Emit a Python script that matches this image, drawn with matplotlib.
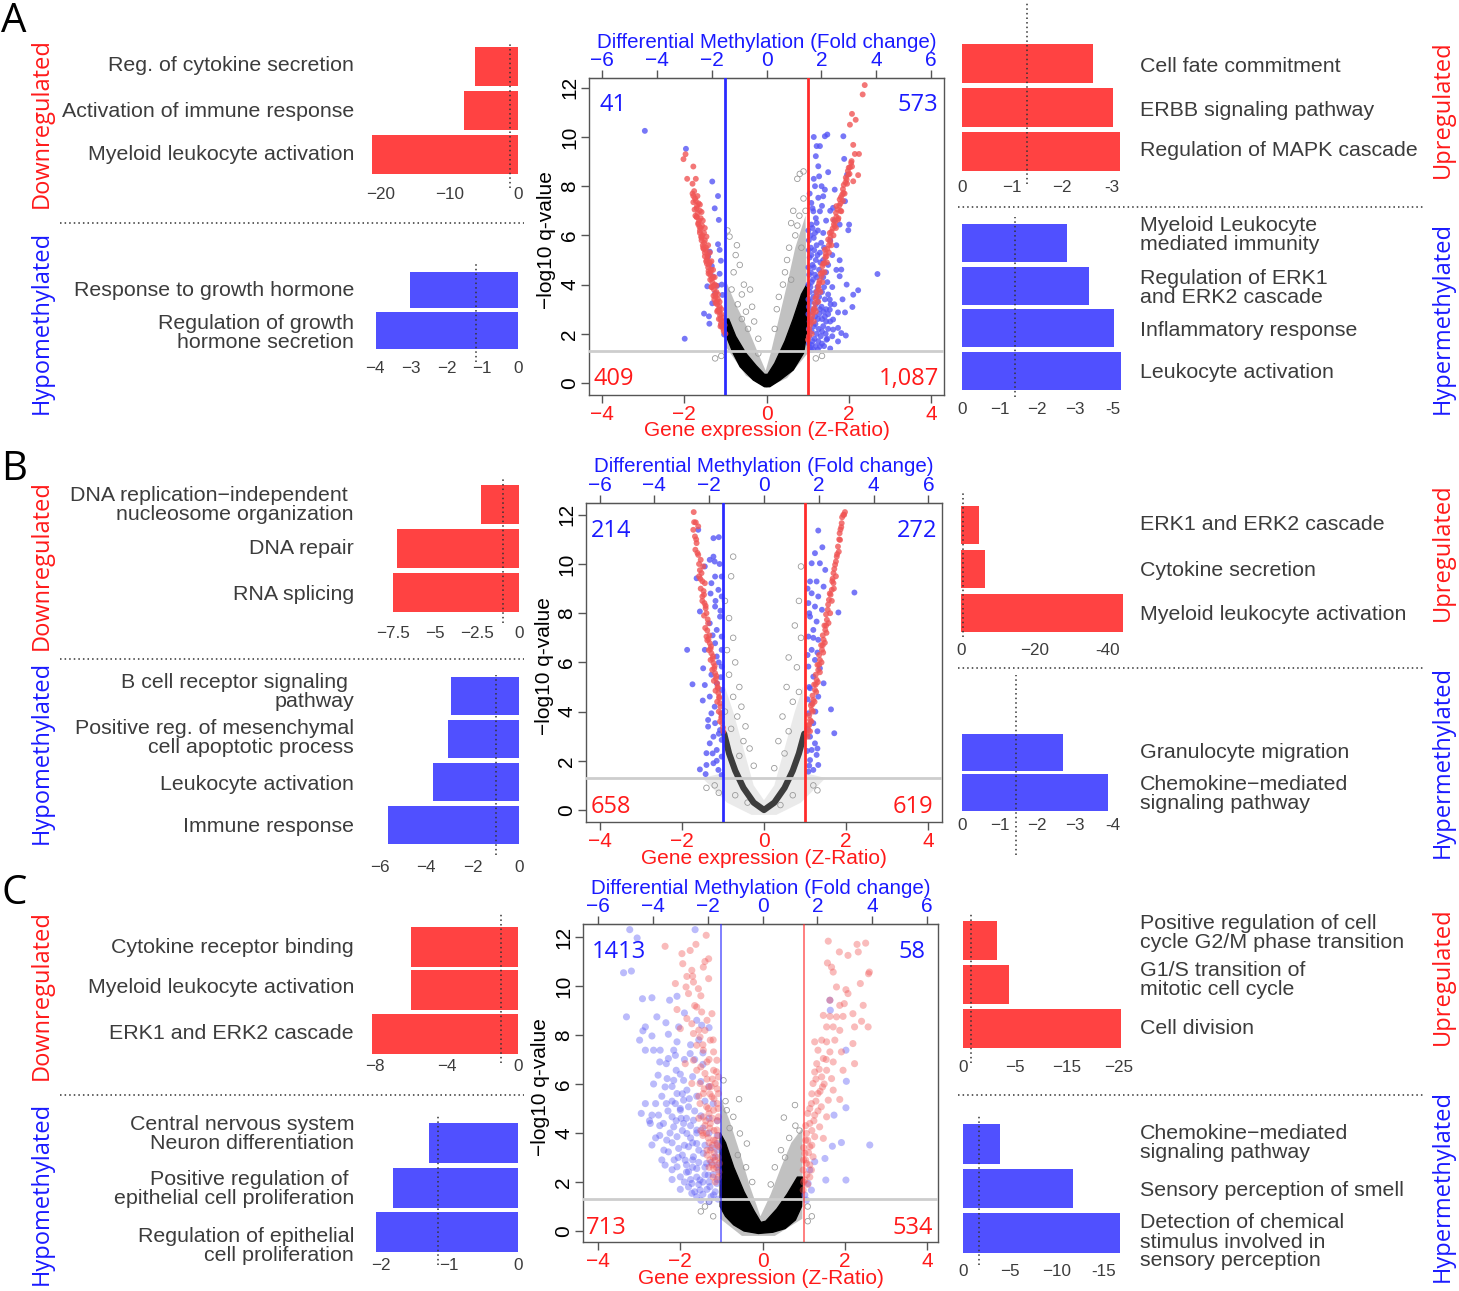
import numpy as np
import matplotlib
matplotlib.use("Agg")
import matplotlib.pyplot as plt
from matplotlib.patches import Polygon
from matplotlib.transforms import blended_transform_factory

plt.rcParams['font.family'] = ['Liberation Sans', 'DejaVu Sans']

# ============================ DATA ============================
# --- enrichment bars (values read against each panel's own axis) ---
A_down_terms = ["Reg. of cytokine secretion", "Activation of immune response", "Myeloid leukocyte activation"]
A_down_vals = [-6.2, -7.9, -21.2]
A_down_ticks = ["\u221220", "\u221210", "0"]
A_hypo_terms = ["Response to growth hormone", "Regulation of growth\nhormone secretion"]
A_hypo_vals = [-3.03, -3.97]
A_hypo_ticks = ["\u22124", "\u22123", "\u22122", "\u22121", "0"]
A_up_terms = ["Cell fate commitment", "ERBB signaling pathway", "Regulation of MAPK cascade"]
A_up_vals = [-2.62, -3.02, -3.16]
A_up_ticks = ["0", "\u22121", "\u22122", "-3"]
A_hyper_terms = ["Myeloid Leukocyte\nmediated immunity", "Regulation of ERK1\nand ERK2 cascade",
                 "Inflammatory response", "Leukocyte activation"]
A_hyper_vals = [-2.79, -3.38, -4.04, -4.23]
A_hyper_ticks = ["0", "\u22121", "\u22122", "\u22123", "-5"]

B_down_terms = ["DNA replication\u2212independent \nnucleosome organization", "DNA repair", "RNA splicing"]
B_down_vals = [-2.26, -7.3, -7.5]
B_down_ticks = ["\u22127.5", "\u22125", "\u22122.5", "0"]
B_hypo_terms = ["B cell receptor signaling \npathway", "Positive reg. of mesenchymal\ncell apoptotic process",
                "Leukocyte activation", "Immune response"]
B_hypo_vals = [-2.93, -3.04, -3.7, -5.63]
B_hypo_ticks = ["\u22126", "\u22124", "\u22122", "0"]
B_up_terms = ["ERK1 and ERK2 cascade", "Cytokine secretion", "Myeloid leukocyte activation"]
B_up_vals = [-4.9, -6.5, -44.1]
B_up_ticks = ["0", "\u221220", "-40"]
B_hyper_terms = ["Granulocyte migration", "Chemokine\u2212mediated\nsignaling pathway"]
B_hyper_vals = [-2.69, -3.88]
B_hyper_ticks = ["0", "\u22121", "\u22122", "\u22123", "-4"]

C_down_terms = ["Cytokine receptor binding", "Myeloid leukocyte activation", "ERK1 and ERK2 cascade"]
C_down_vals = [-6.0, -6.0, -8.2]
C_down_ticks = ["\u22128", "\u22124", "0"]
C_hypo_terms = ["Central nervous system\nNeuron differentiation", "Positive regulation of \nepithelial cell proliferation",
                "Regulation of epithelial\ncell proliferation"]
C_hypo_vals = [-1.3, -1.81, -2.07]
C_hypo_ticks = ["\u22122", "\u22121", "0"]
C_up_terms = ["Positive regulation of cell\ncycle G2/M phase transition", "G1/S transition of\nmitotic cell cycle",
              "Cell division"]
C_up_vals = [-0.65, -0.88, -3.04]
C_up_ticks = ["0", "\u22125", "\u221215", "\u221225"]
C_hyper_terms = ["Chemokine\u2212mediated\nsignaling pathway", "Sensory perception of smell",
                 "Detection of chemical\nstimulus involved in\nsensory perception"]
C_hyper_vals = [-3.9, -11.7, -16.7]
C_hyper_ticks = ["0", "\u22125", "\u221210", "-15"]

# significance thresholds (dotted lines)
thr_A = dict(down=-1.22, hypo=-1.18, up=-1.3, hyper=-1.41)
thr_B = dict(down=-0.98, hypo=-1.0, up=-0.6, hyper=-1.44)
thr_C = dict(down=-0.96, hypo=-1.17, up=-0.15, hyper=-1.7)

# --- volcano counts ---
A_counts = ["41", "573", "409", "1,087"]
B_counts = ["214", "272", "658", "619"]
C_counts = ["1413", "58", "713", "534"]

# --- volcano points (z-ratio, -log10 q) ---
volA_red = [(-2.02,9.1),(-1.97,9.3),(-1.78,8.8),(-1.93,8.3),(-1.72,8.3),(-1.8,8.1),(-1.78,7.6),(-1.68,7.6),(-1.72,7.4),
 (-1.65,7.3),(-1.7,7.1),(-1.62,7.0),(-1.73,6.8),(-1.6,6.7),(-1.66,6.5),(-1.57,6.4),(-1.62,6.2),(-1.52,6.1),(-1.58,5.9),
 (-1.5,5.8),(-1.55,5.6),(-1.47,5.5),(-1.5,5.3),(-1.43,5.2),(-1.45,5.0),(-1.38,4.9),(-1.42,4.7),(-1.35,4.6),(-1.37,4.4),
 (-1.3,4.3),(-1.32,4.1),(-1.26,4.0),(-1.28,3.8),(-1.22,3.7),(-1.24,3.5),(-1.18,3.4),(-1.2,3.2),(-1.14,3.1),(-1.15,2.9),
 (-1.1,2.8),(-1.12,2.6),(-1.06,2.5),(-1.08,2.3),(-1.04,2.1),
 (-1.05,2.2),(-1.09,2.5),(-1.13,2.75),(-1.16,3.0),(-1.21,3.3),(-1.25,3.6),(-1.29,3.95),(-1.33,4.25),(-1.36,4.5),(-1.4,4.8),
 (-1.44,5.1),(-1.48,5.4),(-1.52,5.7),(-1.56,6.0),(-1.6,6.3),(-1.64,6.6),(-1.67,6.9),(-1.69,7.2),(-1.74,7.5),(-1.76,7.8),
 (-1.11,2.4),(-1.19,2.95),(-1.27,3.4),(-1.34,3.9),(-1.41,4.45),(-1.47,4.95),(-1.53,5.45),(-1.59,5.95),(-1.63,6.35),(-1.7,6.75),
 (-1.12,2.3),(-1.16,2.6),(-1.2,2.9),(-1.24,3.25),(-1.29,3.55),(-1.33,3.9),(-1.37,4.2),(-1.41,4.55),(-1.45,4.85),(-1.5,5.15),
 (-1.54,5.5),(-1.58,5.8),(-1.62,6.1),(-1.66,6.45),(-1.7,6.75),(-1.75,7.05),(-1.78,7.35),(-1.8,7.7),
 (-1.0,2.0),(-1.02,2.35),(-1.06,2.65),(-1.1,3.0),(-1.14,3.3),(-1.18,3.6),(-1.22,3.95),(-1.26,4.3),(-1.3,4.6),(-1.34,4.95),
 (-1.38,5.3),(-1.42,5.6),(-1.46,5.95),(-1.5,6.3),(-1.55,6.6),(-1.58,6.95),(-1.62,7.25),
 (2.39,12.11),(2.34,11.73),(2.08,10.94),(2.17,10.7),(2.03,10.5),(2.11,9.68),(2.15,9.31),(2.25,9.31),(2.07,9.02),(2.03,8.77),
 (1.99,8.47),(2.23,8.45),(1.95,8.27),(2.11,8.2),(1.87,7.73),(1.78,7.46),(1.7,7.19),(1.82,6.98),(1.62,6.64),(1.74,6.64),
 (1.54,6.1),(1.66,6.37),(1.5,5.83),(1.42,5.42),(1.46,5.15),(1.36,4.75),(1.34,4.34),(1.26,3.93),(1.22,3.53),(1.14,2.98),
 (1.07,2.58),(1.04,2.17),(1.01,1.76),
 (1.06,2.35),(1.11,2.72),(1.17,3.05),(1.19,3.45),(1.27,3.82),(1.29,4.15),(1.36,4.52),(1.41,4.88),(1.44,5.25),(1.52,5.61),
 (1.56,5.95),(1.61,6.28),(1.67,6.55),(1.69,6.92),(1.77,7.21),(1.81,7.55),(1.86,7.88),(1.92,8.15),(1.98,8.62),(2.06,8.95),
 (1.03,1.9),(1.08,2.45),(1.13,2.85),(1.18,3.25),(1.22,3.7),(1.28,4.05),(1.32,4.45),(1.38,4.85),(1.43,5.1),(1.48,5.45),
 (1.55,5.75),(1.58,6.15),(1.64,6.45),(1.7,6.75),(1.73,7.05),(1.8,7.3),(1.84,7.65),(1.88,8.05),(1.93,8.35),(2.0,8.75),
 (1.1,2.0),(1.15,2.5),(1.2,2.9),(1.26,3.3),(1.31,3.7),(1.36,4.1),(1.41,4.5),(1.47,4.9),(1.52,5.3),(1.58,5.6),
 (1.63,6.0),(1.69,6.3),(1.75,6.7),(1.8,7.0),(1.86,7.4),(1.9,7.7),(1.96,8.1),(2.02,8.5),(2.08,8.8)]
volA_blue = [(-2.96,10.25),(-1.96,9.52),(-1.99,1.8),(-1.32,8.19),(-1.18,7.6),(-1.26,7.1),(-1.16,6.63),(-1.18,5.64),(-1.14,5.41),
 (-1.11,4.97),(-1.14,4.44),(-1.09,4.0),(-1.44,3.93),(-1.52,2.82),(-1.4,2.71),(-1.39,2.41),(-1.32,3.24),(-1.09,2.33),(-1.03,1.97),
 (-1.42,5.14),(-1.38,5.34),(-1.3,4.33),(-1.07,3.58),(-1.33,4.75),(-1.25,3.65),(-1.2,3.95),
 (1.15,10.0),(1.42,10.03),(1.48,10.1),(1.87,10.03),(1.22,9.63),(1.3,9.63),(1.2,9.22),(1.89,9.11),(1.26,8.81),(1.5,8.57),
 (1.96,8.47),(1.18,8.0),(1.34,8.0),(1.42,7.86),(1.66,7.86),(1.09,7.32),(1.26,7.53),(1.38,7.59),(1.14,6.98),(1.3,6.98),
 (1.62,7.12),(1.91,7.39),(2.01,6.44),(1.78,6.44),(1.99,6.21),(1.09,6.44),(1.22,6.51),(1.38,6.1),(1.78,4.99),(1.82,4.61),
 (1.78,4.34),(2.7,4.43),(2.23,3.77),(2.11,3.59),(2.09,3.09),(1.91,2.87),(1.74,2.87),(1.54,2.98),(1.62,2.58),(1.74,2.24),
 (1.93,1.93),(1.82,2.03),(1.74,1.69),(1.46,1.76),(1.62,2.17),(1.3,1.49),(1.14,1.36),(1.38,2.31),(1.54,3.39),
 (1.03,5.8),(1.08,5.5),(1.15,5.9),(1.22,5.6),(1.05,5.1),(1.12,4.8),(1.2,5.0),(1.3,5.3),(1.04,4.4),(1.1,4.1),(1.18,4.4),
 (1.28,4.6),(1.06,3.7),(1.14,3.5),(1.24,3.9),(1.35,3.7),(1.03,3.1),(1.1,2.9),(1.2,3.2),(1.3,3.0),(1.42,3.4),(1.05,2.5),
 (1.15,2.3),(1.25,2.6),(1.35,2.6),(1.45,2.5),(1.04,1.9),(1.12,1.7),(1.22,2.0),(1.32,1.9),(1.5,2.2),(1.06,1.45),(1.2,1.5),
 (1.4,1.5),(1.55,1.4),(1.48,4.1),(1.5,3.6),(1.6,3.9),(1.45,4.5),(1.6,5.2),(1.7,5.6),(1.25,6.2),(1.45,6.6),(1.55,7.0),
 (1.65,6.6),(1.7,4.6),(1.65,3.2),(1.85,3.4),(1.95,4.0),(1.6,1.9),
 (1.02,6.2),(1.07,6.0),(1.12,6.3),(1.18,6.1),(1.03,5.4),(1.09,5.2),(1.16,5.4),(1.24,5.2),(1.33,5.7),(1.02,4.7),(1.08,4.5),
 (1.15,4.7),(1.23,4.3),(1.31,4.9),(1.38,4.3),(1.02,4.0),(1.07,3.9),(1.13,4.2),(1.2,3.7),(1.28,3.5),(1.4,3.9),(1.02,3.4),
 (1.08,3.3),(1.16,3.0),(1.24,3.3),(1.34,3.1),(1.45,3.0),(1.02,2.8),(1.09,2.6),(1.18,2.7),(1.28,2.8),(1.39,2.9),(1.5,2.8),
 (1.03,2.2),(1.1,2.1),(1.19,2.4),(1.27,2.2),(1.44,2.0),(1.55,2.5),(1.03,1.6),(1.1,1.55),(1.17,1.8),(1.26,1.7),(1.35,1.6),
 (1.48,1.8),(1.08,1.35),(1.25,1.35),(1.35,2.1),(1.42,2.7),(1.56,3.2),(1.5,4.8),(1.38,5.0),(1.4,5.5),(1.55,5.8),(1.12,7.1),
 (1.2,6.7),(1.35,7.2),(1.05,7.7),(1.15,8.3),(1.28,8.4)]
volA_gray = [(-0.9,5.95),(-0.72,5.6),(-0.95,6.2),(-0.55,4.0),(-0.6,3.6),(-0.4,3.8),(-0.7,3.2),(-0.5,2.9),(-0.3,2.5),
 (-0.8,4.5),(-0.65,4.8),(-0.2,1.8),(-0.45,2.2),(-0.85,3.8),(-0.35,3.1),(-0.6,2.6),(-0.75,5.2),(-0.2,1.2),(0.81,8.5),
 (0.75,8.3),(0.9,7.5),(0.6,6.5),(0.7,6.0),(0.55,5.5),(0.8,6.8),(0.45,4.5),(0.3,3.5),(0.25,3.0),(0.65,7.0),(0.9,8.6),
 (0.85,5.5),(0.4,4.0),(0.5,5.0),(0.2,2.2),(0.95,7.0),(0.75,6.4),(1.2,1.0),(1.35,1.1),(0.6,4.2),(-1.1,1.1),(-1.25,1.0)]
volA_halo = [(-1.0,4.2),(-0.75,3.2),(-0.45,2.2),(-0.2,1.2),(-0.02,0.5),(0.1,1.2),(0.3,2.6),(0.5,4.0),(0.7,5.5),
 (0.95,6.8),(1.0,1.2),(0.5,0.2),(0.0,-0.2),(-0.5,0.3),(-1.0,1.5)]
volA_core = [(-1.01,2.6),(-1.0,2.0),(-0.81,1.21),(-0.64,0.66),(-0.32,0.12),(-0.05,-0.15),(0.08,-0.15),(0.33,0.12),
 (0.65,0.53),(0.9,1.21),(0.98,2.0),(0.98,4.0),(0.85,3.6),(0.65,2.6),(0.45,1.7),(0.2,0.8),(0.03,0.35),(-0.05,0.35),
 (-0.25,0.7),(-0.5,1.2),(-0.75,1.9),(-0.92,2.6)]

volB_red = [(-1.71,12.11),(-1.66,11.69),(-1.6,11.53),(-1.72,11.39),(-1.68,11.12),(-1.64,10.85),(-1.67,10.58),(-1.6,10.37),
 (-1.54,10.17),(-1.48,9.9),(-1.52,9.63),(-1.44,9.22),(-1.5,8.68),(-1.45,8.41),(-1.4,8.0),(-1.36,7.59),(-1.4,7.05),
 (-1.32,6.78),(-1.28,6.37),(-1.23,5.97),(-1.19,5.56),(-1.14,5.15),(-1.11,4.75),(-1.07,4.34),(-1.05,3.93),(-1.02,3.53),
 (-0.99,3.19),(-1.47,8.9),(-1.42,8.2),(-1.38,7.3),(-1.35,6.95),(-1.3,6.55),(-1.25,6.15),(-1.21,5.75),(-1.17,5.35),
 (-1.12,4.95),(-1.09,4.55),(-1.04,3.75),(-1.55,9.4),(-1.58,10.0),
 (-1.0,3.35),(-1.03,3.8),(-1.06,4.2),(-1.09,4.6),(-1.13,5.0),(-1.16,5.45),(-1.2,5.85),(-1.24,6.25),(-1.29,6.65),
 (-1.33,7.1),(-1.37,7.75),(-1.42,8.3),(-1.46,8.75),(-1.5,9.3),(-1.56,9.75),(-1.62,10.45),(-1.65,11.0),(-1.7,11.7),
 (-1.07,3.6),(-1.1,4.0),(-1.14,4.4),(-1.18,4.85),(-1.22,5.25),(-1.26,5.7),(-1.3,6.1),(-1.34,6.5),(-1.38,6.9),
 (-1.43,7.4),(-1.46,7.9),(-1.5,8.5),(-1.54,9.0),(-1.58,9.5),
 (1.97,12.11),(1.93,12.0),(1.89,11.66),(1.84,11.25),(1.85,10.98),(1.8,10.71),(1.77,10.3),(1.73,9.97),(1.69,9.63),
 (1.69,9.22),(1.65,8.95),(1.58,8.54),(1.55,8.14),(1.53,7.73),(1.49,7.32),(1.45,6.92),(1.41,6.51),(1.36,6.1),(1.32,5.69),
 (1.28,5.29),(1.24,4.88),(1.2,4.47),(1.16,4.07),(1.12,3.66),(1.08,3.25),(1.06,2.98),(1.9,11.9),(1.82,10.5),(1.75,10.1),
 (1.62,8.75),(1.51,7.5),(1.43,6.7),(1.34,5.9),(1.26,5.1),(1.18,4.3),(1.1,3.45),(1.86,11.4),(1.67,9.4),
 (1.04,3.1),(1.07,3.45),(1.1,3.85),(1.14,4.25),(1.18,4.65),(1.22,5.1),(1.26,5.5),(1.3,5.9),(1.34,6.3),(1.39,6.7),
 (1.43,7.1),(1.47,7.5),(1.51,7.95),(1.56,8.35),(1.6,8.8),(1.66,9.3),(1.71,9.8),(1.78,10.4),(1.83,11.0),(1.88,11.5),
 (1.95,12.0),
 (1.12,3.2),(1.15,3.6),(1.19,4.0),(1.23,4.4),(1.27,4.8),(1.31,5.2),(1.36,5.6),(1.4,6.0),(1.44,6.4),(1.48,6.8),
 (1.52,7.2),(1.57,7.6),(1.61,8.0),(1.65,8.5),(1.7,9.0),(1.75,9.5)]
volB_blue = [(-1.23,11.05),(-1.1,11.09),(-1.6,11.39),(-1.44,9.9),(-1.23,10.3),(-1.32,10.17),(-1.19,9.49),(-1.03,9.49),
 (-1.64,9.42),(-1.28,9.22),(-1.11,8.95),(-1.03,8.68),(-1.56,8.07),(-1.19,8.27),(-1.07,7.86),(-1.32,7.59),(-1.15,7.32),
 (-1.03,7.05),(-1.19,6.78),(-1.03,6.51),(-1.87,6.51),(-1.44,6.51),(-1.15,6.24),(-1.48,5.76),(-1.03,5.83),(-1.74,5.11),
 (-1.44,5.08),(-1.15,5.15),(-1.03,4.88),(-1.32,4.61),(-1.49,4.45),(-1.28,3.93),(-1.03,3.93),(-1.36,3.66),(-1.19,3.53),
 (-1.36,3.39),(-1.07,3.25),(-1.23,2.98),(-1.03,2.85),(-1.32,2.71),(-1.15,2.44),(-1.4,2.31),(-1.03,2.17),(-1.23,1.9),
 (-1.4,1.83),(-1.56,1.65),(-1.42,1.46),(-1.11,1.63),(-1.03,1.42),(-1.2,10.1),(-1.08,10.0),(-1.3,8.8),(-1.18,8.5),
 (-1.06,8.1),(-1.25,7.1),(-1.1,6.0),(-1.28,5.5),(-1.05,5.4),(-1.2,4.2),(-1.1,3.1),(-1.25,2.3),(-1.15,2.0),
 (1.32,11.36),(1.42,10.68),(1.24,10.44),(1.36,10.03),(1.16,10.03),(1.49,9.76),(1.12,9.29),(1.28,9.29),(1.45,9.08),
 (1.16,8.81),(1.32,8.68),(1.08,8.41),(1.24,8.27),(1.41,8.14),(1.81,8.03),(2.2,8.84),(1.12,7.86),(1.28,7.66),(1.2,7.32),
 (1.08,7.05),(1.32,6.92),(1.16,6.51),(1.24,6.1),(1.08,5.83),(1.36,5.76),(1.2,5.42),(1.45,5.15),(1.12,4.95),(1.32,4.61),
 (1.16,4.34),(1.63,4.09),(1.08,3.93),(1.2,3.53),(1.71,3.12),(1.12,2.98),(1.24,2.71),(1.16,2.44),(1.28,2.24),(1.12,2.03),
 (1.32,1.83),(1.2,1.63),(1.08,1.56),(1.06,9.0),(1.1,8.0),(1.2,7.0),(1.06,6.3),(1.3,6.4),(1.1,5.0),(1.06,4.5),(1.25,4.0),
 (1.06,3.3),(1.3,3.2),(1.05,2.4),(1.3,2.5),(1.1,1.8)]
volB_gray = [(-0.75,10.3),(-0.8,9.5),(-0.95,8.5),(-0.85,7.8),(-0.75,7.0),(-0.9,6.5),(-0.7,6.0),(-0.85,5.5),(-0.6,5.0),
 (-0.75,4.6),(-0.55,4.2),(-0.65,3.8),(-0.45,3.4),(-0.5,2.8),(-0.35,2.5),(-0.25,1.8),(-0.6,2.2),(-0.8,3.3),(-0.95,4.0),
 (0.9,9.9),(0.85,8.5),(0.75,7.5),(0.9,7.0),(0.6,6.2),(0.8,5.8),(0.55,5.0),(0.7,4.4),(0.45,3.8),(0.6,3.2),(0.35,2.8),
 (0.5,2.3),(0.25,1.7),(0.85,4.8),(-1.2,1.0),(-1.4,0.9),(-1.1,0.7),(1.2,1.0),(1.3,0.8),(-0.4,0.3),(0.4,0.2),(-0.7,0.6),
 (0.7,0.6)]
volB_halo = [(-1.5,1.3),(-1.0,1.5),(-0.95,5.0),(-0.75,4.0),(-0.5,2.5),(-0.25,1.0),(0,0.4),(0.25,1.0),(0.5,2.5),(0.75,4.0),
 (0.95,5.0),(1.0,1.5),(1.5,1.3),(0.9,0.3),(0.3,-0.2),(-0.3,-0.2),(-0.9,0.3)]
volB_core = [(-0.97,3.1),(-0.85,2.3),(-0.7,1.6),(-0.5,0.9),(-0.25,0.3),(0.0,0.0),(0.25,0.3),(0.5,0.9),(0.7,1.6),
 (0.85,2.3),(0.98,3.1)]

volC_red = [(-2.37,11.62),(-1.96,11.32),(-1.76,11.45),(-1.37,12.07),(-1.31,11.11),(-1.94,10.91),(-1.44,10.77),
 (-1.72,10.64),(-1.31,10.3),(-1.84,10.39),(-2.12,10.1),(-1.68,10.16),(-1.86,9.96),(-1.56,9.89),(-1.8,9.69),(-2.08,9.04),
 (-1.6,9.14),(-1.84,8.67),(-1.48,8.94),(-1.23,8.87),(-1.72,8.46),(-2.0,8.26),(-1.4,8.19),(-1.68,8.06),(-1.52,7.92),
 (-1.27,7.79),(-1.6,7.58),(-1.44,7.38),(-1.19,7.31),(-1.88,6.83),(-1.68,6.97),(-1.35,6.9),(-1.11,6.97),(-1.6,6.56),
 (-1.4,6.43),(-1.19,6.56),(-1.07,6.29),(-1.72,6.02),(-1.52,6.02),(-1.31,5.88),(-1.15,6.02),(-1.44,5.61),(-1.23,5.48),
 (-1.07,5.61),(-1.52,5.2),(-1.36,5.07),(-1.19,4.93),(-1.07,4.66),(-1.44,4.66),(-1.27,4.39),(-1.11,4.12),(-1.36,3.98),
 (-1.19,3.71),(-1.07,3.44),(-1.27,3.3),(-1.15,2.89),(-1.05,2.76),(-1.19,2.55),(-1.07,2.21),(-1.3,4.8),(-1.4,4.3),
 (-1.3,3.6),(-1.45,3.9),(-1.35,3.1),(-1.2,3.0),(-1.5,4.1),(-1.1,5.2),(-1.25,5.9),(-1.55,5.5),(-1.15,2.0),(-1.3,2.6),
 (-1.06,2.4),(-1.12,2.6),(-1.2,2.2),(-1.08,3.0),(-1.18,3.2),(-1.28,2.9),(-1.1,3.5),(-1.22,3.5),(-1.32,3.8),(-1.08,3.9),
 (-1.18,4.1),(-1.28,4.2),(-1.38,4.5),(-1.1,4.5),(-1.22,4.6),(-1.32,5.0),(-1.08,5.0),(-1.18,5.4),(-1.28,5.6),(-1.42,5.8),
 (-1.1,5.8),(-1.22,6.2),(-1.35,6.2),(-1.5,6.7),(-1.12,6.5),(-1.3,7.0),(-1.45,7.6),(-1.2,7.8),(-1.55,8.2),(-1.35,8.6),
 (-1.65,9.2),(-1.5,9.6),(-1.7,10.4),(-1.4,11.0),(-1.62,11.7),(-1.22,2.7),(-1.35,3.3),(-1.45,4.0),(-1.55,4.6),(-1.15,3.7),
 (1.6,11.83),(2.3,11.7),(2.51,11.75),(1.87,11.39),(2.08,11.25),(2.33,11.39),(1.58,10.94),(1.68,10.77),(1.72,10.57),
 (2.6,10.57),(2.58,10.5),(2.38,10.1),(1.8,9.96),(2.03,9.85),(2.08,9.69),(1.64,9.42),(1.88,9.21),(1.99,9.28),(2.45,9.21),
 (1.48,8.8),(1.64,8.76),(1.8,8.74),(1.96,8.76),(2.2,8.87),(2.41,8.56),(2.57,8.33),(2.24,8.33),(1.56,8.33),(1.72,8.33),
 (1.88,8.19),(1.76,7.79),(1.27,7.72),(1.44,7.79),(1.56,7.72),(2.2,7.65),(1.35,7.38),(1.64,7.31),(1.92,7.31),(1.48,7.04),
 (1.32,6.83),(1.72,6.9),(2.24,6.83),(1.56,6.56),(1.96,6.56),(1.27,6.49),(1.44,6.29),(1.68,6.22),(1.23,6.02),(1.46,5.88),
 (1.72,5.75),(1.35,5.61),(1.6,5.34),(1.88,5.37),(1.19,5.2),(1.43,5.07),(1.27,4.73),(1.56,4.66),(1.15,4.39),(1.39,4.25),
 (1.07,3.98),(1.27,3.85),(1.48,3.78),(1.15,3.44),(1.03,3.17),(1.23,3.03),(1.07,2.76),(0.99,2.49),(1.19,2.49),(1.03,2.08),
 (0.99,1.67),(1.1,3.7),(1.2,4.1),(1.3,5.3),(1.1,4.8),(1.05,2.9),(1.15,2.2),
 (1.0,3.4),(1.05,3.7),(1.12,3.2),(1.0,2.9),(1.08,2.3),(1.15,2.7),(1.2,3.5),(1.25,4.5),(1.35,4.9),(1.05,4.3),(1.15,5.0),
 (1.4,5.7),(1.3,6.2),(1.5,6.0),(1.55,7.0),(1.38,6.6),(1.2,5.6),(1.0,2.0),(1.1,1.9)]
volC_blue = [(-3.23,12.3),(-3.05,11.96),(-3.38,10.54),(-3.19,10.61),(-1.64,12.3),(-2.92,9.48),(-2.69,9.52),(-2.26,9.42),
 (-2.08,9.58),(-3.31,8.74),(-2.57,8.74),(-2.85,8.33),(-2.04,8.33),(-1.48,8.4),(-2.91,8.17),(-2.69,7.96),(-2.29,8.03),
 (-2.99,7.79),(-2.08,7.72),(-2.85,7.38),(-2.65,7.38),(-2.49,7.38),(-2.12,7.17),(-1.76,7.24),(-1.45,7.27),(-2.29,7.04),
 (-2.34,6.83),(-2.1,6.56),(-2.54,6.36),(-2.32,6.22),(-2.16,6.15),(-1.92,6.15),(-2.37,5.88),(-2.08,5.61),(-1.84,5.75),
 (-2.34,5.2),(-2.12,5.2),(-1.92,5.34),(-2.69,4.73),(-2.53,4.73),(-2.73,4.39),(-2.2,4.66),(-2.0,4.93),(-1.8,5.07),
 (-2.41,4.39),(-2.16,4.25),(-1.92,4.39),(-1.68,4.52),(-2.69,3.51),(-2.33,3.71),(-2.08,3.85),(-1.84,3.98),(-1.6,4.12),
 (-2.29,3.23),(-2.04,3.37),(-1.8,3.44),(-1.6,3.57),(-2.37,2.69),(-2.08,2.62),(-1.88,2.89),(-1.68,3.03),(-1.44,3.17),
 (-2.0,2.21),(-1.8,2.42),(-1.6,2.55),(-1.36,2.76),(-1.72,1.94),(-1.52,2.08),(-1.32,2.28),(-1.72,1.54),(-1.52,1.67),
 (-1.28,1.81),(-1.11,1.94),(-1.19,1.47),(-1.07,2.49),(-1.15,3.03),(-1.11,3.57),(-2.16,7.38),(-2.45,5.5),(-2.2,5.9),
 (-1.98,4.6),(-2.25,4.0),(-2.5,3.9),(-1.95,3.1),(-2.15,2.9),(-1.7,2.6),(-1.9,2.0),(-2.4,3.3),(-1.75,3.8),(-2.0,5.0),
 (-2.6,5.2),(-1.55,1.9),(-1.4,2.3),(-1.85,2.7),(-2.2,2.5),
 (-1.08,1.3),(-1.15,1.6),(-1.25,1.4),(-1.35,1.7),(-1.45,1.5),(-1.6,1.4),(-1.1,2.1),(-1.2,2.3),(-1.3,2.0),(-1.45,2.0),
 (-1.6,2.2),(-1.75,2.1),(-1.1,2.7),(-1.25,2.8),(-1.4,2.6),(-1.55,2.8),(-1.7,2.9),(-1.85,2.4),(-1.1,3.3),(-1.25,3.4),
 (-1.4,3.5),(-1.55,3.3),(-1.7,3.6),(-1.9,3.5),(-2.05,3.0),(-1.1,3.9),(-1.3,4.0),(-1.45,4.2),(-1.6,4.0),(-1.75,4.3),
 (-1.95,4.1),(-2.1,4.5),(-1.1,4.5),(-1.3,4.6),(-1.5,4.7),(-1.65,4.9),(-1.85,4.6),(-2.3,4.9),(-1.2,5.2),(-1.4,5.3),
 (-1.6,5.5),(-1.78,5.4),(-1.95,5.6),(-2.2,5.3),(-1.3,5.9),(-1.5,6.1),(-1.7,6.3),(-2.0,6.4),(-1.45,6.8),(-1.65,7.0),
 (-1.9,7.0),(-1.55,7.8),(-1.75,7.6),(-1.3,8.3),(-1.6,8.6),(-1.9,8.9),(-2.35,8.5),(-2.5,6.9),(-2.65,6.0),(-2.85,5.2),
 (-2.95,4.8),(-2.5,4.3),(-2.2,3.6),(-2.45,2.9),(-2.6,3.8),(-2.75,4.5),(-1.8,1.8),(-2.0,1.7),(-2.2,2.1),(-1.65,1.6),
 (-1.3,1.2),(-1.5,1.25),
 (1.64,9.42),(1.65,9.01),(2.03,7.38),(2.04,6.11),(2.03,5.03),(1.74,4.73),(1.92,3.61),(1.7,3.46),(2.61,3.51),(1.52,2.96),
 (1.27,2.83),(1.15,2.49),(1.54,2.08),(2.03,2.08),(1.11,1.94),(1.19,1.67),(1.07,1.26),(1.03,1.47)]
volC_gray = [(-0.57,5.38),(0.79,5.14),(0.52,4.63),(-0.95,6.15),(-0.87,4.93),(-0.71,4.66),(-0.55,3.98),(-0.38,3.57),
 (-0.6,3.1),(-0.4,2.6),(-0.8,4.2),(-0.25,2.0),(0.3,2.6),(0.45,3.3),(0.65,3.8),(0.8,4.3),(0.9,4.1),(0.2,1.9),
 (-1.3,1.2),(-1.4,1.0),(-1.5,0.8),(-1.2,0.6),(1.1,1.0),(1.2,0.6),(1.1,0.4),(-0.9,5.3),(0.55,3.0)]
volC_halo = [(-1.03,5.5),(-0.8,4.5),(-0.55,3.2),(-0.3,1.8),(-0.05,0.6),(0.2,1.5),(0.45,2.6),(0.7,3.6),(0.97,4.2),
 (0.97,0.5),(0.3,-0.2),(-0.5,-0.2),(-1.03,0.5)]
volC_core = [(-1.03,4.0),(-1.03,1.0),(-0.9,0.6),(-0.7,0.25),(-0.45,0.0),(-0.1,-0.1),(0.25,-0.05),(0.55,0.1),(0.8,0.45),
 (0.95,1.0),(0.97,2.2),(0.85,2.2),(0.6,1.5),(0.35,0.9),(0.08,0.4),(-0.04,0.35),(-0.2,0.8),(-0.45,1.6),(-0.7,2.6),
 (-0.9,3.6)]

# ============================ FIGURE ============================
W, H = 1459, 1291
fig = plt.figure(figsize=(W / 100, H / 100), dpi=100)

RED_BAR = '#FF4242'
BLUE_BAR = '#5050FF'
RED_T = '#FF1A1A'
BLUE_T = '#1A1AFF'
TXT = '#3C3C3C'
CAT_FS = 15.4
TICK_FS = 12.3
SIDE_FONT = ['Open Sans', 'DejaVu Sans']


def bar_panel(vals, terms, ticklabels, thresh, color, side, L):
    s = 1 if side == 'left' else -1
    x0, x1 = (355, 530) if side == 'left' else (950, 1135)
    top, bot = L['top'], L['bot']
    ax = fig.add_axes([x0 / W, 1 - bot / H, (x1 - x0) / W, (bot - top) / H])
    ax.set_xlim((x0 - L['zero']) / (s * L['ppu']), (x1 - L['zero']) / (s * L['ppu']))
    ax.set_ylim((bot - L['y0']) / L['pitch'], (top - L['y0']) / L['pitch'])
    ax.barh(np.arange(len(vals)), vals, height=L['bh'] / L['pitch'], color=color, edgecolor='none')
    ax.axvline(thresh, color='#333333', ls=(0, (1, 2)), lw=1.1)
    ax.axis('off')
    tr = blended_transform_factory(ax.transData, fig.transFigure)
    for p, t in zip(L['tickpos'], ticklabels):
        ax.text(p, 1 - L['ticky'] / H, t, transform=tr, ha='center', va='center', fontsize=TICK_FS, color=TXT)
    lx = 354 if side == 'left' else 1140
    for y, term in zip(L['laby'], terms):
        fig.text(lx / W, 1 - y / H, term, ha='right' if side == 'left' else 'left', va='center',
                 fontsize=CAT_FS, color=TXT, linespacing=1.0)


def volcano(box, zx, zy, ppy, red, blue, gray, counts, count_pos, style, core=None, core_line=None, halo=None):
    l, t, r, b = box
    ppx = 41.1
    ax = fig.add_axes([l / W, 1 - b / H, (r - l) / W, (b - t) / H])
    ax.set_xlim((l - zx) / ppx, (r - zx) / ppx)
    ax.set_ylim((zy - b) / ppy, (zy - t) / ppy)
    for sp in ax.spines.values():
        sp.set_color('#555555')
        sp.set_linewidth(1.0)
    if halo is not None:
        ax.add_patch(Polygon(np.array(halo), closed=True, fc=style['halo'], ec='none', alpha=style['halo_a'], zorder=1))
    g = np.array(gray).T
    ax.scatter(g[0], g[1], s=16, facecolors='none', edgecolors='#9a9a9a', linewidths=0.6, zorder=1.5)
    if core is not None:
        ax.add_patch(Polygon(np.array(core), closed=True, fc='black', ec='black', lw=1.0, zorder=2,
                             joinstyle='round'))
    if core_line is not None:
        c = np.array(core_line).T
        ax.plot(c[0], c[1], color='#3d3d3d', lw=4.5, solid_capstyle='round', solid_joinstyle='round', zorder=2)
    bl = np.array(blue).T
    rd = np.array(red).T
    ax.scatter(bl[0], bl[1], s=style['s'], color='#5555F5', alpha=style['a'], edgecolors='none', zorder=3)
    ax.scatter(rd[0], rd[1], s=style['s'], color='#F05555', alpha=style['a'], edgecolors='none', zorder=3.2)
    ax.axhline(1.3, color='#cdcdcd', lw=2, zorder=4)
    ax.axvline(-1, color='#2B2BFF', lw=style['lw'], alpha=style['la'], zorder=4)
    ax.axvline(1, color='#FF2B2B', lw=style['lw'], alpha=style['la'], zorder=4)

    ax.set_xticks([-4, -2, 0, 2, 4])
    ax.tick_params(axis='x', colors='#555555', labelcolor=RED_T, labelsize=15, length=6, width=1, pad=1)
    ax.set_yticks(range(0, 13, 2))
    ax.tick_params(axis='y', colors='#555555', labelcolor='black', labelsize=15, length=6, width=1, pad=1,
                   labelrotation=90)
    for lab in ax.get_yticklabels():
        lab.set_va('center')
    sec = ax.secondary_xaxis('top', functions=(lambda z: z * 1.5, lambda f: f / 1.5))
    sec.set_xticks(range(-6, 7, 2))
    sec.tick_params(colors='#555555', labelcolor=BLUE_T, labelsize=15, length=6, width=1, pad=0)
    sec.spines['top'].set_color('#555555')

    cx = (l + r) / 2
    fig.text(cx / W, 1 - (t - 36) / H, "Differential Methylation (Fold change)", ha='center', va='center',
             fontsize=14.8, color=BLUE_T)
    fig.text(cx / W, 1 - (b + 36) / H, "Gene expression (Z-Ratio)", ha='center', va='center',
             fontsize=15, color=RED_T)
    fig.text((l - 42) / W, 1 - ((t + b) / 2 + 4) / H, "\u2212log10 q-value", ha='center', va='center',
             rotation=90, fontsize=15, color='black')
    cols = [BLUE_T, BLUE_T, RED_T, RED_T]
    has = ['left', 'right', 'left', 'right']
    for txt, (px, py), c, ha in zip(counts, count_pos, cols, has):
        fig.text(px / W, 1 - py / H, txt, ha=ha, va='center', fontsize=17, color=c, family=SIDE_FONT)


# ---------------- Row A ----------------
bar_panel(A_down_vals, A_down_terms, A_down_ticks, thr_A['down'], RED_BAR, 'left',
          dict(zero=518, ppu=6.88, y0=66.2, pitch=44, bh=39, top=43.3, bot=188.3, ticky=194.3,
               tickpos=[-20, -10, 0], laby=[65.7, 111.7, 155]))
bar_panel(A_hypo_vals, A_hypo_terms, A_hypo_ticks, thr_A['hypo'], BLUE_BAR, 'left',
          dict(zero=518, ppu=35.7, y0=289.8, pitch=40.7, bh=36.5, top=262.3, bot=361.7, ticky=368.3,
               tickpos=[-4, -3, -2, -1, 0], laby=[290.7, 333]))
bar_panel(A_up_vals, A_up_terms, A_up_ticks, thr_A['up'], RED_BAR, 'right',
          dict(zero=962, ppu=50, y0=63.8, pitch=43.7, bh=39, top=1, bot=184, ticky=187,
               tickpos=[0, -1, -2, -3], laby=[66, 110, 151]))
bar_panel(A_hyper_vals, A_hyper_terms, A_hyper_ticks, thr_A['hyper'], BLUE_BAR, 'right',
          dict(zero=962, ppu=37.6, y0=243, pitch=42.7, bh=38, top=217, bot=397, ticky=410,
               tickpos=[0, -1, -2, -3, -4], laby=[235, 288, 330, 372]))
volcano((589, 78, 944, 395), 766.5, 383, 24.6, volA_red, volA_blue, volA_gray, A_counts,
        [(600, 105), (938, 105), (593, 379), (939, 379)],
        dict(s=18, a=0.8, lw=2, la=1.0, halo='#666666', halo_a=0.4), core=volA_core, halo=volA_halo)

# ---------------- Row B ----------------
bar_panel(B_down_vals, B_down_terms, B_down_ticks, thr_B['down'], RED_BAR, 'left',
          dict(zero=519.3, ppu=16.8, y0=504.2, pitch=44.25, bh=39, top=479.3, bot=622.7, ticky=634,
               tickpos=[-7.5, -5, -2.5, 0], laby=[505, 548.3, 594]))
bar_panel(B_hypo_vals, B_hypo_terms, B_hypo_ticks, thr_B['hypo'], BLUE_BAR, 'left',
          dict(zero=519, ppu=23.2, y0=695.8, pitch=43.2, bh=38, top=675, bot=855, ticky=868,
               tickpos=[-6, -4, -2, 0], laby=[692.2, 737.8, 785, 826.7]))
bar_panel(B_up_vals, B_up_terms, B_up_ticks, thr_B['up'], RED_BAR, 'right',
          dict(zero=961, ppu=3.67, y0=525, pitch=44, bh=38, top=493, bot=637, ticky=650,
               tickpos=[0, -20, -40], laby=[525, 571, 615]))
bar_panel(B_hyper_vals, B_hyper_terms, B_hyper_ticks, thr_B['hyper'], BLUE_BAR, 'right',
          dict(zero=962, ppu=37.6, y0=752, pitch=40, bh=37, top=675, bot=855, ticky=825,
               tickpos=[0, -1, -2, -3, -4], laby=[752, 794]))
volcano((586, 503, 942, 822), 764, 810, 24.6, volB_red, volB_blue, volB_gray, B_counts,
        [(591, 531), (937, 531), (591, 807), (933, 807)],
        dict(s=18, a=0.8, lw=2, la=1.0, halo='#d2d2d2', halo_a=0.45), core_line=volB_core, halo=volB_halo)

# ---------------- Row C ----------------
bar_panel(C_down_vals, C_down_terms, C_down_ticks, thr_C['down'], RED_BAR, 'left',
          dict(zero=518.2, ppu=17.85, y0=946.7, pitch=43.65, bh=40, top=913.3, bot=1062.7, ticky=1066.7,
               tickpos=[-8, -4, 0], laby=[947.3, 987.3, 1033.3]))
bar_panel(C_hypo_vals, C_hypo_terms, C_hypo_ticks, thr_C['hypo'], BLUE_BAR, 'left',
          dict(zero=518.2, ppu=68.9, y0=1143.3, pitch=44.2, bh=40, top=1115, bot=1265, ticky=1266,
               tickpos=[-2, -1, 0], laby=[1133.7, 1188.8, 1245.8]))
bar_panel(C_up_vals, C_up_terms, C_up_ticks, thr_C['up'], RED_BAR, 'right',
          dict(zero=963, ppu=52, y0=940, pitch=44.25, bh=39, top=913, bot=1063, ticky=1068,
               tickpos=[0, -1, -2, -3], laby=[933, 980, 1028]))
bar_panel(C_hyper_vals, C_hyper_terms, C_hyper_ticks, thr_C['hyper'], BLUE_BAR, 'right',
          dict(zero=963, ppu=9.4, y0=1144, pitch=44.5, bh=39.5, top=1115, bot=1265, ticky=1271,
               tickpos=[0, -5, -10, -15], laby=[1143, 1190, 1242]))
volcano((583, 924, 938, 1242), 762.5, 1231, 24.5, volC_red, volC_blue, volC_gray, C_counts,
        [(592, 952), (926, 952), (586, 1228), (933, 1228)],
        dict(s=26, a=0.4, lw=1.2, la=0.7, halo='#666666', halo_a=0.4), core=volC_core, halo=volC_halo)

# ---------------- side labels, separators, panel letters ----------------
for yc, txt, c in [(123, "Downregulated", RED_T), (322, "Hypomethylated", BLUE_T),
                   (565, "Downregulated", RED_T), (752, "Hypomethylated", BLUE_T),
                   (995, "Downregulated", RED_T), (1193, "Hypomethylated", BLUE_T)]:
    fig.text(42 / W, 1 - yc / H, txt, rotation=90, ha='center', va='center', fontsize=17, color=c, family=SIDE_FONT)
for yc, txt, c in [(109, "Upregulated", RED_T), (318, "Hypermethylated", BLUE_T),
                   (552, "Upregulated", RED_T), (762, "Hypermethylated", BLUE_T),
                   (976, "Upregulated", RED_T), (1186, "Hypermethylated", BLUE_T)]:
    fig.text(1443 / W, 1 - yc / H, txt, rotation=90, ha='center', va='center', fontsize=17, color=c, family=SIDE_FONT)

for y in [222.7, 659.3, 1095]:
    fig.add_artist(plt.Line2D([60 / W, 524 / W], [1 - y / H, 1 - y / H], color='#333333', ls=(0, (1, 2)), lw=1.1))
for y in [207, 668.3, 1095]:
    fig.add_artist(plt.Line2D([958 / W, 1423 / W], [1 - y / H, 1 - y / H], color='#333333', ls=(0, (1, 2)), lw=1.1))

for y, letter in [(22, "A"), (470, "B"), (894, "C")]:
    fig.text(1 / W, 1 - y / H, letter, ha='left', va='center', fontsize=29, color='black', family=SIDE_FONT)

fig.savefig("out.png", dpi=100)
